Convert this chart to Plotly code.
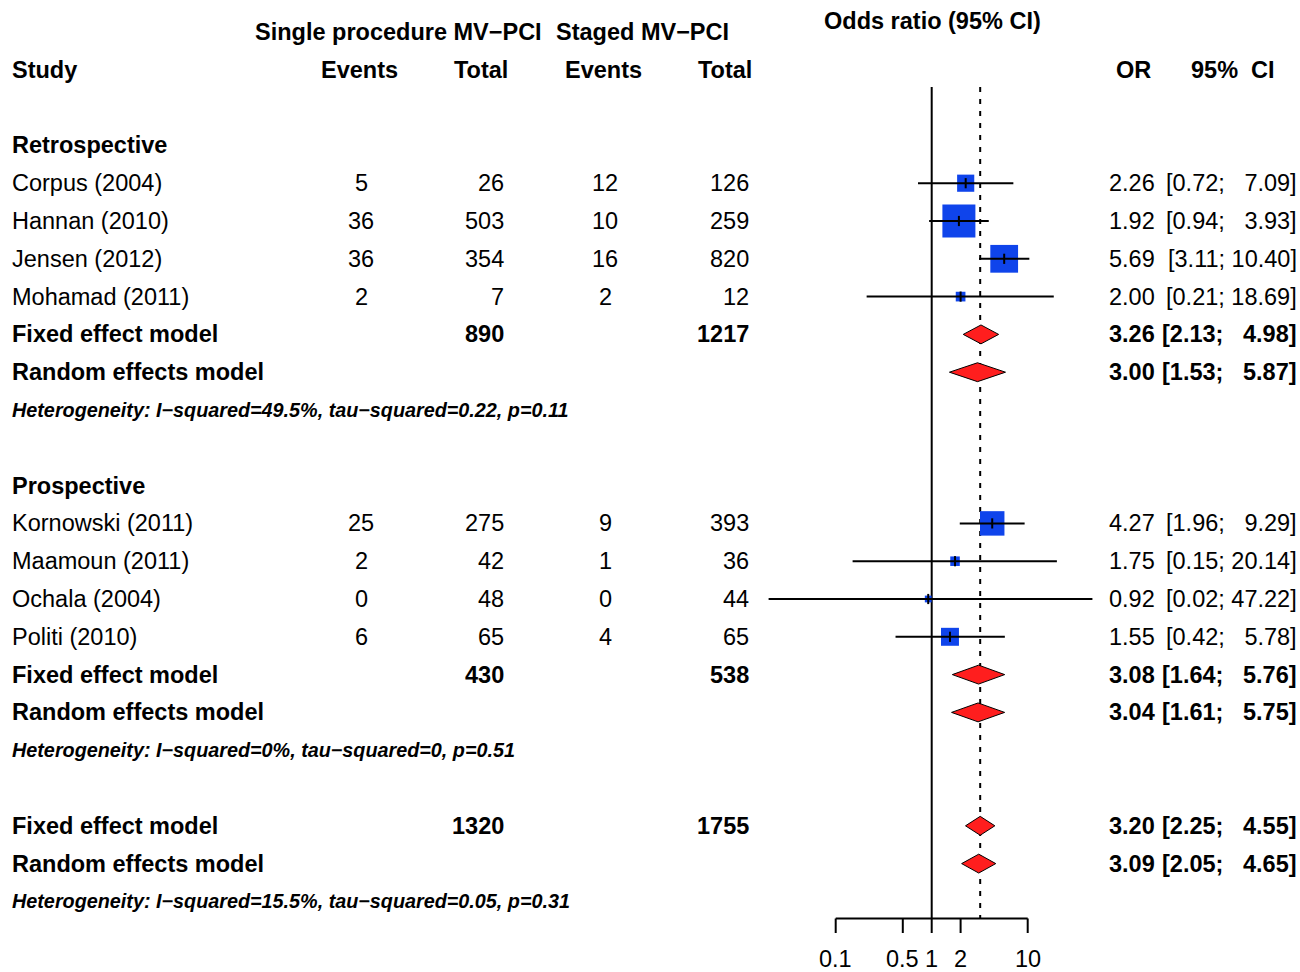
import math
import plotly.graph_objects as go

# ---------------- data ----------------
studies = ["Corpus (2004)", "Hannan (2010)", "Jensen (2012)", "Mohamad (2011)",
           "Kornowski (2011)", "Maamoun (2011)", "Ochala (2004)", "Politi (2010)"]
ev_single = [5, 36, 36, 2, 25, 2, 0, 6]
n_single = [26, 503, 354, 7, 275, 42, 48, 65]
ev_staged = [12, 10, 16, 2, 9, 1, 0, 4]
n_staged = [126, 259, 820, 12, 393, 36, 44, 65]
or_est = [2.26, 1.92, 5.69, 2.00, 4.27, 1.75, 0.92, 1.55]
or_lo = [0.72, 0.94, 3.11, 0.21, 1.96, 0.15, 0.02, 0.42]
or_hi = [7.09, 3.93, 10.40, 18.69, 9.29, 20.14, 47.22, 5.78]

group_titles = ["Retrospective", "Prospective"]
group_members = [[0, 1, 2, 3], [4, 5, 6, 7]]

pool_names = ["Fixed effect model", "Random effects model"]
# pooled estimates: retrospective, prospective, overall (fixed, random)
pool_est = [[3.26, 3.00], [3.08, 3.04], [3.20, 3.09]]
pool_lo = [[2.13, 1.53], [1.64, 1.61], [2.25, 2.05]]
pool_hi = [[4.98, 5.87], [5.76, 5.75], [4.55, 4.65]]
pool_n_single = [890, 430, 1320]
pool_n_staged = [1217, 538, 1755]
het_text = [
    "Heterogeneity: I\u2212squared=49.5%, tau\u2212squared=0.22, p=0.11",
    "Heterogeneity: I\u2212squared=0%, tau\u2212squared=0, p=0.51",
    "Heterogeneity: I\u2212squared=15.5%, tau\u2212squared=0.05, p=0.31",
]
tick_vals = [0.1, 0.5, 1, 2, 10]
tick_text = ["0.1", "0.5", "1", "2", "10"]

# ---------------- geometry ----------------
W, H = 1300, 972
ROW0, ROWH = 32.0, 37.8          # pixel centre of row 1, row pitch
X1, DEC = 931.7, 96.0            # pixel of OR = 1, pixels per decade

def prow(py):
    return 1 + (py - ROW0) / ROWH

def px(x):
    return x / W

FONT = "Liberation Sans, Arial, Helvetica, sans-serif"
FS = 23.5
FS_HET = 19.8
BLUE = "#0F44EB"
RED = "#FF1E1E"

# Mantel-Haenszel weights -> square side proportional to sqrt(weight)
def mh_weight(a, n1, c, n2):
    b, d = n1 - a, n2 - c
    if 0 in (a, b, c, d):
        a, b, c, d = a + .5, b + .5, c + .5, d + .5
    return b * c / (a + b + c + d)

weights = [mh_weight(ev_single[i], n_single[i], ev_staged[i], n_staged[i])
           for i in range(len(studies))]
wmax = max(weights)
MAX_SIDE = 33
sides = [MAX_SIDE * math.sqrt(w / wmax) for w in weights]

# ---------------- row assignment ----------------
study_row = {}
pool_rows = []
het_rows = []
title_rows = []
r = 4
for g, members in enumerate(group_members):
    title_rows.append(r)
    r += 1
    for i in members:
        study_row[i] = r
        r += 1
    pool_rows.append((r, r + 1))
    het_rows.append(r + 2)
    r += 4
pool_rows.append((r, r + 1))
het_rows.append(r + 2)

ann = []

def text(x, row, s, anchor="left", bold=False, italic=False, size=FS):
    t = s
    if bold:
        t = "<b>" + t + "</b>"
    if italic:
        t = "<i>" + t + "</i>"
    ann.append(dict(x=px(x), y=row, xref="paper", yref="y", text=t,
                    showarrow=False, xanchor=anchor, yanchor="middle",
                    font=dict(family=FONT, size=size, color="black"),
                    borderpad=0, borderwidth=0))

# column positions (pixels)
C_STUDY = 12
C_EV1 = 361
C_TOT1 = 504
C_EV2 = 605
C_TOT2 = 749
C_OR = 1155
C_CI = 1297

NB = "\u00a0"

# headers
text(932, prow(21), "Odds ratio (95% CI)", "center", bold=True)
text(255, 1, "Single procedure MV\u2212PCI", "left", bold=True)
text(556, 1, "Staged MV\u2212PCI", "left", bold=True)
text(C_STUDY, 2, "Study", bold=True)
text(359, 2, "Events", "center", bold=True)
text(508, 2, "Total", "right", bold=True)
text(603, 2, "Events", "center", bold=True)
text(752, 2, "Total", "right", bold=True)
text(1133, 2, "OR", "center", bold=True)
text(1233, 2, "95%" + NB + NB + "CI", "center", bold=True)

def ci_str(lo, hi):
    # pad the upper limit to a fixed number of digits (two spaces = one digit)
    hi_s = f"{hi:.2f}"
    pad = (NB + NB) * (5 - len(hi_s))
    return "[" + f"{lo:.2f};" + NB + pad + hi_s + "]"

for g, title in enumerate(group_titles):
    text(C_STUDY, title_rows[g], title, bold=True)

for i, name in enumerate(studies):
    rr = study_row[i]
    text(C_STUDY, rr, name)
    text(C_EV1, rr, str(ev_single[i]), "center")
    text(C_TOT1, rr, str(n_single[i]), "right")
    text(C_EV2, rr, str(ev_staged[i]), "center")
    text(C_TOT2, rr, str(n_staged[i]), "right")
    text(C_OR, rr, f"{or_est[i]:.2f}", "right")
    text(C_CI, rr, ci_str(or_lo[i], or_hi[i]), "right")

for k, (rf, rr_) in enumerate(pool_rows):
    for j, rowk in enumerate((rf, rr_)):
        text(C_STUDY, rowk, pool_names[j], bold=True)
        text(C_OR, rowk, f"{pool_est[k][j]:.2f}", "right", bold=True)
        text(C_CI, rowk, ci_str(pool_lo[k][j], pool_hi[k][j]), "right", bold=True)
    text(C_TOT1, rf, str(pool_n_single[k]), "right", bold=True)
    text(C_TOT2, rf, str(pool_n_staged[k]), "right", bold=True)
    text(C_STUDY, het_rows[k], het_text[k], bold=True, italic=True, size=FS_HET)

# x-axis tick labels (log axis -> annotation x is log10 of the value)
for v, lab in zip(tick_vals, tick_text):
    ann.append(dict(x=math.log10(v), y=prow(972), xref="x", yref="y", text=lab,
                    showarrow=False, xanchor="center", yanchor="bottom",
                    font=dict(family=FONT, size=FS, color="black"),
                    borderpad=0, borderwidth=0))

fig = go.Figure()

top_row = prow(87)
axis_row = prow(918.5)
tick_end = prow(933)

# reference line at OR = 1 and dashed line at overall fixed estimate
fig.add_trace(go.Scatter(x=[1, 1], y=[top_row, axis_row], mode="lines",
                         line=dict(color="black", width=2), hoverinfo="skip"))
fig.add_trace(go.Scatter(x=[pool_est[2][0]] * 2, y=[top_row, axis_row], mode="lines",
                         line=dict(color="black", width=2, dash="5px,7px"),
                         hoverinfo="skip"))

# squares
fig.add_trace(go.Scatter(
    x=or_est, y=[study_row[i] for i in range(len(studies))], mode="markers",
    marker=dict(symbol="square", size=sides, color=BLUE, opacity=1, line=dict(width=0)),
    hoverinfo="skip"))

# confidence intervals and estimate ticks
cx, cy, tx, ty = [], [], [], []
for i in range(len(studies)):
    rr = study_row[i]
    cx += [or_lo[i], or_hi[i], None]
    cy += [rr, rr, None]
    tx += [or_est[i], or_est[i], None]
    ty += [rr - 0.135, rr + 0.135, None]
fig.add_trace(go.Scatter(x=cx, y=cy, mode="lines", line=dict(color="black", width=2),
                         hoverinfo="skip"))
fig.add_trace(go.Scatter(x=tx, y=ty, mode="lines", line=dict(color="black", width=2),
                         hoverinfo="skip"))

# pooled diamonds
DH = 0.25
for k, rows in enumerate(pool_rows):
    for j, rowk in enumerate(rows):
        e, lo, hi = pool_est[k][j], pool_lo[k][j], pool_hi[k][j]
        fig.add_trace(go.Scatter(
            x=[lo, e, hi, e, lo], y=[rowk, rowk - DH, rowk, rowk + DH, rowk],
            mode="lines", fill="toself", fillcolor=RED,
            line=dict(color="black", width=1), hoverinfo="skip"))

# x axis drawn beneath the plot
fig.add_trace(go.Scatter(x=[tick_vals[0], tick_vals[-1]], y=[axis_row] * 2, mode="lines",
                         line=dict(color="black", width=2), hoverinfo="skip"))
ax_x, ax_y = [], []
for v in tick_vals:
    ax_x += [v, v, None]
    ax_y += [axis_row, tick_end, None]
fig.add_trace(go.Scatter(x=ax_x, y=ax_y, mode="lines",
                         line=dict(color="black", width=2), hoverinfo="skip"))

fig.update_layout(
    width=W, height=H, margin=dict(l=0, r=0, t=0, b=0),
    paper_bgcolor="white", plot_bgcolor="white", showlegend=False,
    xaxis=dict(type="log", range=[(0 - X1) / DEC, (W - X1) / DEC], visible=False,
               domain=[0, 1], fixedrange=True),
    yaxis=dict(range=[prow(H), prow(0)], visible=False, domain=[0, 1], fixedrange=True),
    annotations=ann,
)

fig.write_html("out.html")
